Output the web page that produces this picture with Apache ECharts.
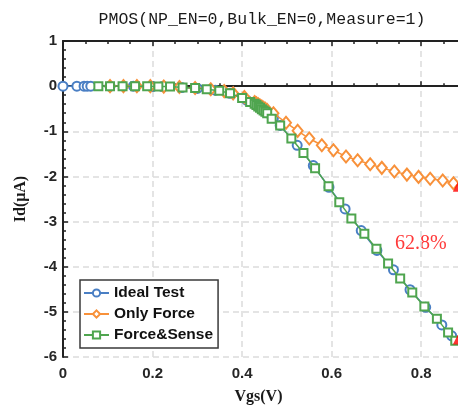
<!DOCTYPE html>
<html>
<head>
<meta charset="utf-8">
<script src="https://cdn.jsdelivr.net/npm/echarts@6/dist/echarts.min.js"></script>
<style>
  html,body{margin:0;padding:0;background:#fff;}
  #chart{width:458px;height:407px;}
</style>
</head>
<body>
<div id="chart"></div>
<script>
// Ideal Test (blue circles)
var idealVgs = [0, 0.031, 0.047, 0.054, 0.062, 0.105, 0.157, 0.2, 0.222, 0.265, 0.3, 0.34, 0.373, 0.41, 0.428, 0.432, 0.436, 0.44, 0.444, 0.448, 0.452, 0.456, 0.47, 0.485, 0.523, 0.559, 0.594, 0.63, 0.666, 0.701, 0.738, 0.775, 0.81, 0.846, 0.868]
var idealId = [0, 0, 0, 0, 0, 0, 0, -0.01, -0.01, -0.03, -0.05, -0.09, -0.16, -0.31, -0.38, -0.41, -0.44, -0.47, -0.5, -0.53, -0.56, -0.59, -0.7, -0.87, -1.31, -1.76, -2.24, -2.72, -3.2, -3.64, -4.07, -4.51, -4.9, -5.29, -5.53]
// Only Force (orange diamonds)
var forceVgs = [0.105, 0.135, 0.165, 0.195, 0.225, 0.26, 0.295, 0.33, 0.36, 0.38, 0.405, 0.428, 0.432, 0.436, 0.44, 0.444, 0.448, 0.452, 0.456, 0.47, 0.498, 0.524, 0.55, 0.578, 0.604, 0.632, 0.658, 0.686, 0.712, 0.74, 0.768, 0.794, 0.82, 0.848, 0.872, 0.895]
var forceId = [0, 0, 0, 0, -0.01, -0.02, -0.04, -0.07, -0.11, -0.16, -0.24, -0.35, -0.38, -0.4, -0.43, -0.45, -0.48, -0.5, -0.53, -0.6, -0.81, -0.99, -1.16, -1.31, -1.42, -1.56, -1.64, -1.73, -1.81, -1.89, -1.96, -2.01, -2.05, -2.09, -2.15, -2.2]
// Force&Sense (green squares)
var senseVgs = [0.079, 0.105, 0.133, 0.161, 0.188, 0.213, 0.239, 0.267, 0.295, 0.321, 0.349, 0.373, 0.4, 0.418, 0.428, 0.432, 0.436, 0.44, 0.444, 0.448, 0.452, 0.456, 0.466, 0.485, 0.51, 0.537, 0.563, 0.593, 0.617, 0.644, 0.673, 0.7, 0.726, 0.753, 0.78, 0.807, 0.835, 0.86, 0.876, 0.895]
var senseId = [0, 0, 0, 0, 0, -0.01, -0.01, -0.03, -0.04, -0.07, -0.1, -0.16, -0.26, -0.35, -0.39, -0.42, -0.45, -0.48, -0.51, -0.54, -0.57, -0.6, -0.72, -0.87, -1.16, -1.48, -1.82, -2.22, -2.57, -2.93, -3.27, -3.6, -3.93, -4.26, -4.57, -4.88, -5.15, -5.46, -5.64, -5.86]
// red end markers
var markVgs = [0.883, 0.883]
var markId = [-2.22, -5.6]

var seriesNames = ['Ideal Test', 'Only Force', 'Force&Sense']
var ratioText = '62.8%'

function pairs(xs, ys){
  return xs.map(function(x, i){ return [x, ys[i]] })
}

var labelFont = {fontFamily:'Liberation Sans', fontWeight:'bold', fontSize:15, color:'#262626'}

var myChart = echarts.init(document.getElementById('chart'))
myChart.setOption({
  animation:false,
  title:{
    text:'PMOS(NP_EN=0,Bulk_EN=0,Measure=1)',
    left:257,
    textAlign:'center',
    top:6,
    textStyle:{fontFamily:'Liberation Mono', fontWeight:'normal', fontSize:16.5, color:'#1a1a1a'}
  },
  grid:{left:63, top:41, width:403, height:316, outerBoundsMode:'none', containLabel:false},
  legend:{
    data:seriesNames,
    orient:'vertical',
    left:80,
    top:280,
    itemGap:5,
    itemWidth:25,
    itemHeight:9,
    padding:[5,5,5,3],
    borderColor:'#3a3a3a',
    borderWidth:1.5,
    backgroundColor:'#fff',
    textStyle:{fontFamily:'Liberation Sans', fontWeight:'bold', fontSize:15.5, color:'#111'}
  },
  xAxis:[
    {
      type:'value', min:0, max:0.9, interval:0.2,
      name:'Vgs(V)', nameLocation:'middle', nameGap:32,
      nameTextStyle:{fontFamily:'Liberation Serif', fontWeight:'bold', fontSize:16, color:'#1a1a1a', padding:[0,12,0,0]},
      axisLine:{lineStyle:{color:'#222', width:2}},
      axisTick:{inside:true, length:5, lineStyle:{color:'#222', width:1.5}},
      minorTick:{show:true, splitNumber:4, length:3, lineStyle:{color:'#222', width:1.5}},
      axisLabel:Object.assign({margin:9, formatter:function(v){ return v > 0.85 ? '' : String(+v.toFixed(1)) }}, labelFont),
      splitLine:{show:true, lineStyle:{color:'#dcdcdc', width:1.5, type:[6,4]}}
    },
    {
      type:'value', min:0, max:0.9, interval:0.2, position:'top',
      axisLine:{lineStyle:{color:'#222', width:2}},
      axisTick:{inside:true, length:5, lineStyle:{color:'#222', width:1.5}},
      minorTick:{show:true, splitNumber:4, length:3, lineStyle:{color:'#222', width:1.5}},
      axisLabel:{show:false},
      splitLine:{show:false}
    }
  ],
  yAxis:{
    type:'value', min:-6, max:1, interval:1,
    name:'Id(μA)', nameLocation:'middle', nameGap:34,
    nameTextStyle:{fontFamily:'Liberation Serif', fontWeight:'bold', fontSize:16, color:'#1a1a1a'},
    axisLine:{show:true, lineStyle:{color:'#222', width:2}},
    axisTick:{show:true, inside:true, length:5, lineStyle:{color:'#222', width:1.5}},
    minorTick:{show:true, splitNumber:5, length:3, lineStyle:{color:'#222', width:1.5}},
    axisLabel:Object.assign({margin:6}, labelFont),
    splitLine:{show:true, lineStyle:{color:'#dcdcdc', width:1.5, type:[6,4]}}
  },
  graphic:[
    {type:'text', left:395, top:234, style:{text:ratioText, fill:'#ff3a3a', font:'20px "Liberation Serif"'}}
  ],
  series:[
    {
      name:seriesNames[0], type:'line', data:pairs(idealVgs, idealId),
      color:'#4a7fc4', symbol:'emptyCircle', symbolSize:9, showAllSymbol:true,
      lineStyle:{width:1.5}, itemStyle:{borderWidth:1.3}, z:2
    },
    {
      name:seriesNames[1], type:'line', data:pairs(forceVgs, forceId),
      color:'#f8913a', symbol:'emptyDiamond', symbolSize:[10,12], showAllSymbol:true,
      lineStyle:{width:1.5}, itemStyle:{borderWidth:1.3}, z:3
    },
    {
      name:seriesNames[2], type:'line', data:pairs(senseVgs, senseId),
      color:'#4fa54f', symbol:'emptyRect', symbolSize:8, showAllSymbol:true,
      lineStyle:{width:1.5}, itemStyle:{borderWidth:1.3}, z:4
    },
    {
      name:'marker', type:'scatter', data:pairs(markVgs, markId),
      symbol:'triangle', symbolSize:11, itemStyle:{color:'#ff0000'}, z:10
    }
  ]
})
</script>
</body>
</html>
